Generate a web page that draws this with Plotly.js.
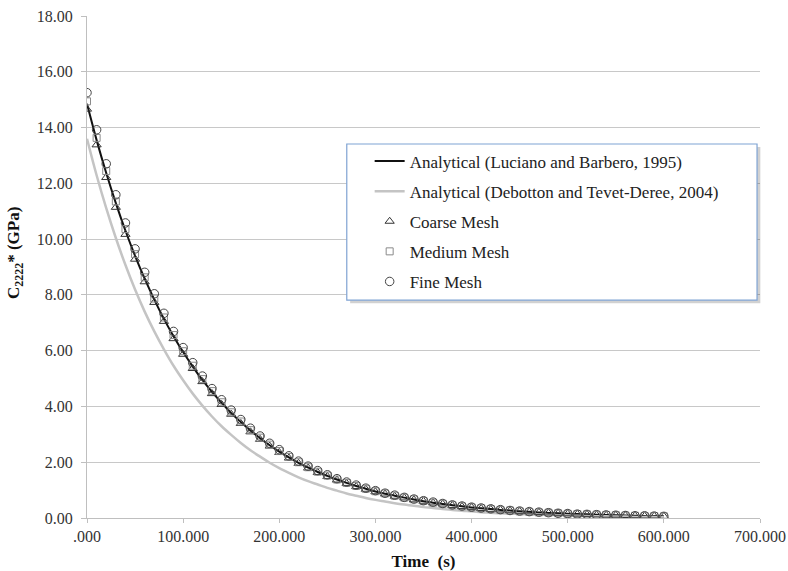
<!DOCTYPE html>
<html>
<head>
<meta charset="utf-8">
<script src="https://cdn.plot.ly/plotly-3.0.1.min.js"></script>
<style>html,body{margin:0;padding:0;background:#fff;}#chart{width:788px;height:571px;}</style>
</head>
<body>
<div id="chart"></div>
<script>
const time = [0,10,20,30,40,50,60,70,80,90,100,110,120,130,140,150,160,170,180,190,200,210,220,230,240,250,260,270,280,290,300,310,320,330,340,350,360,370,380,390,400,410,420,430,440,450,460,470,480,490,500,510,520,530,540,550,560,570,580,590,600];

const lucianoBarbero = [14.85,13.55,12.37,11.29,10.30,9.40,8.58,7.83,7.14,6.52,5.95,5.43,4.95,4.52,4.13,3.76,3.44,3.14,2.86,2.61,2.38,2.17,1.98,1.81,1.65,1.51,1.38,1.26,1.15,1.05,0.95,0.87,0.80,0.73,0.66,0.60,0.55,0.50,0.46,0.42,0.38,0.35,0.32,0.29,0.27,0.24,0.22,0.20,0.18,0.17,0.15,0.14,0.13,0.12,0.11,0.10,0.09,0.08,0.07,0.07,0.06];

const debottonTevetDeree = [13.60,12.29,11.11,10.04,9.07,8.19,7.40,6.69,6.05,5.46,4.94,4.46,4.03,3.64,3.29,2.98,2.69,2.43,2.20,1.98,1.79,1.62,1.46,1.32,1.20,1.08,0.98,0.88,0.80,0.72,0.65,0.59,0.53,0.48,0.44,0.39,0.36,0.32,0.29,0.26,0.24,0.21,0.19,0.17,0.16,0.14,0.13,0.12,0.11,0.10,0.09,0.08,0.07,0.06,0.06,0.05,0.05,0.04,0.04,0.04,0.03];

const coarseMesh = [14.66,13.38,12.21,11.14,10.17,9.28,8.47,7.73,7.05,6.43,5.87,5.36,4.89,4.46,4.07,3.72,3.39,3.09,2.82,2.58,2.35,2.15,1.96,1.79,1.63,1.49,1.36,1.24,1.13,1.03,0.94,0.86,0.78,0.72,0.65,0.60,0.54,0.50,0.45,0.41,0.38,0.34,0.31,0.29,0.26,0.24,0.22,0.20,0.18,0.17,0.15,0.14,0.13,0.11,0.10,0.10,0.09,0.08,0.07,0.07,0.06];

const mediumMesh = [14.94,13.63,12.44,11.35,10.36,9.46,8.63,7.87,7.19,6.56,5.98,5.46,4.98,4.55,4.15,3.79,3.46,3.15,2.88,2.63,2.40,2.19,2.00,1.82,1.66,1.52,1.38,1.26,1.15,1.05,0.96,0.88,0.80,0.73,0.67,0.61,0.55,0.51,0.46,0.42,0.38,0.35,0.32,0.29,0.27,0.24,0.22,0.20,0.19,0.17,0.15,0.14,0.13,0.12,0.11,0.10,0.09,0.08,0.07,0.07,0.06];

const fineMesh = [15.25,13.92,12.70,11.59,10.58,9.65,8.81,8.04,7.34,6.69,6.11,5.57,5.09,4.64,4.24,3.87,3.53,3.22,2.94,2.68,2.45,2.23,2.04,1.86,1.70,1.55,1.41,1.29,1.18,1.07,0.98,0.89,0.82,0.74,0.68,0.62,0.57,0.52,0.47,0.43,0.39,0.36,0.33,0.30,0.27,0.25,0.23,0.21,0.19,0.17,0.16,0.14,0.13,0.12,0.11,0.10,0.09,0.08,0.08,0.07,0.06];

const xTickVals = [0,100,200,300,400,500,600,700];
const xTickText = ['.000','100.000','200.000','300.000','400.000','500.000','600.000','700.000'];
const yTickVals = [0,2,4,6,8,10,12,14,16,18];
const yTickText = ['0.00','2.00','4.00','6.00','8.00','10.00','12.00','14.00','16.00','18.00'];

const serif = 'Liberation Serif, Times New Roman, serif';

const traces = [
  {x: time, y: lucianoBarbero, type: 'scatter', mode: 'lines', name: 'Analytical (Luciano and Barbero, 1995)',
   line: {color: '#111111', width: 2, shape: 'spline'}, legendgroup: 'a'},
  {x: time, y: debottonTevetDeree, type: 'scatter', mode: 'lines', name: 'Analytical (Debotton and Tevet-Deree, 2004)',
   line: {color: '#c4c4c4', width: 2.5, shape: 'spline'}, legendgroup: 'b'},
  {x: time, y: coarseMesh, type: 'scatter', mode: 'markers', name: 'Coarse Mesh',
   marker: {symbol: 'triangle-up-open', size: 8, color: '#333333', line: {width: 1}}, legendgroup: 'c'},
  {x: time, y: mediumMesh, type: 'scatter', mode: 'markers', name: 'Medium Mesh',
   marker: {symbol: 'square-open', size: 7, color: '#8a8a8a', line: {width: 1}}, legendgroup: 'd'},
  {x: time, y: fineMesh, type: 'scatter', mode: 'markers', name: 'Fine Mesh',
   marker: {symbol: 'circle-open', size: 8.5, color: '#444444', line: {width: 1}}, legendgroup: 'e'}
];

const layout = {
  width: 788, height: 571,
  margin: {l: 87, r: 28, t: 16, b: 53},
  paper_bgcolor: '#ffffff', plot_bgcolor: '#ffffff',
  font: {family: serif, size: 16, color: '#333333'},
  showlegend: true,
  legend: {
    x: 0.42, y: 0.746, xanchor: 'left', yanchor: 'top',
    bgcolor: 'rgba(0,0,0,0)', borderwidth: 0,
    font: {family: serif, size: 17, color: '#222222'},
    traceorder: 'grouped', tracegroupgap: 5, itemwidth: 30
  },
  xaxis: {
    range: [0, 700], tickvals: xTickVals, ticktext: xTickText,
    showgrid: false, zeroline: false,
    showline: true, linecolor: '#bfbfbf', linewidth: 1,
    ticks: 'outside', ticklen: 4, tickcolor: '#bfbfbf',
    tickfont: {family: serif, size: 16, color: '#333333'},
    title: {text: '<b>Time  (s)</b>', font: {family: serif, size: 17, color: '#111111'}, standoff: 10}
  },
  yaxis: {
    range: [0, 18], tickvals: yTickVals, ticktext: yTickText,
    showgrid: true, gridcolor: '#c8c8c8', gridwidth: 1,
    zeroline: false, showline: true, linecolor: '#bfbfbf', linewidth: 1,
    ticks: 'outside', ticklen: 5, tickcolor: '#bfbfbf', ticklabelstandoff: 5,
    tickfont: {family: serif, size: 16, color: '#333333'}
  },
  annotations: [
    {text: '<b>C<sub>2222</sub>* (GPa)</b>', xref: 'paper', yref: 'paper', x: -0.107, y: 0.528,
     xanchor: 'center', yanchor: 'middle', textangle: -90, showarrow: false,
     font: {family: serif, size: 17, color: '#111111'}}
  ],
  shapes: [
    {type: 'rect', xref: 'paper', yref: 'paper', x0: 0.391, x1: 1.0005, y0: 0.428, y1: 0.739,
     fillcolor: 'rgba(0,0,0,0.18)', line: {width: 0}, layer: 'above'},
    {type: 'rect', xref: 'paper', yref: 'paper', x0: 0.386, x1: 0.9956, y0: 0.434, y1: 0.745,
     fillcolor: '#ffffff', line: {color: '#7fa3d3', width: 1.2}, layer: 'above'}
  ]
};

Plotly.newPlot('chart', traces, layout, {displayModeBar: false, staticPlot: true});
</script>
</body>
</html>
